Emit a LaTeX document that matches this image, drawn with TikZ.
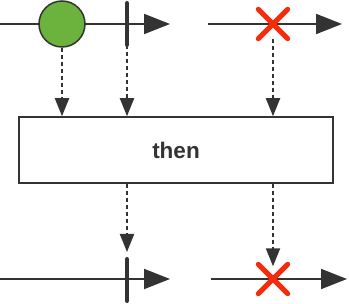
\documentclass[tikz,border=0pt]{standalone}
\usepackage{fontspec}
\setmainfont{Liberation Sans}
\usetikzlibrary{arrows.meta}
\definecolor{marble}{HTML}{6CB33E}
\definecolor{failure}{HTML}{F52B0C}
\definecolor{ink}{HTML}{333333}

\begin{document}
\begin{tikzpicture}[x=1pt,y=-1pt]
  \useasboundingbox (0,0) rectangle (349,304);

  % Source streams (top)
  \coordinate (srcAstart) at (0,24);
  \coordinate (srcAend) at (170,24);
  \coordinate (srcBstart) at (208,24);
  \coordinate (srcBend) at (342,24);
  \draw[ink,line width=2pt,-{Triangle[length=26pt,width=20pt]}] (srcAstart) -- (srcAend);
  \draw[ink,line width=2pt,-{Triangle[length=26pt,width=20pt]}] (srcBstart) -- (srcBend);

  % Emitted value and completion
  \node[circle,draw=ink,fill=marble,line width=1.5pt,minimum size=46pt,inner sep=0pt] (item) at (62,24) {};
  \coordinate (doneAtop) at (127,3);
  \coordinate (doneAbot) at (127,45);
  \draw[ink,line width=4pt,line cap=round] (doneAtop) -- (doneAbot);

  % Error on second source
  \node[minimum size=29pt,inner sep=0pt] (errA) at (273,24) {};
  \draw[failure,line width=5pt,line cap=round] (errA.north west) -- (errA.south east);
  \draw[failure,line width=5pt,line cap=round] (errA.north east) -- (errA.south west);

  % Operator box
  \node[draw=ink,line width=1.5pt,minimum width=314pt,minimum height=66pt,text=ink,font=\fontsize{22.5}{26}\selectfont\bfseries] (op) at (176,150) {then};

  % Dashed links into the operator
  \draw[ink,line width=2pt,dash pattern=on 4pt off 3pt,-{Triangle[length=18pt,width=14pt]}] (item.south) -- (item.south |- op.north);
  \draw[ink,line width=2pt,dash pattern=on 4pt off 3pt,-{Triangle[length=18pt,width=14pt]}] (doneAbot) -- (doneAbot |- op.north);
  \draw[ink,line width=2pt,dash pattern=on 4pt off 3pt,-{Triangle[length=18pt,width=14pt]}] (errA.south) -- (errA.south |- op.north);

  % Result streams (bottom)
  \coordinate (resAstart) at (0,279);
  \coordinate (resAend) at (170,279);
  \coordinate (resBstart) at (211,279);
  \coordinate (resBend) at (347,279);
  \draw[ink,line width=2pt,-{Triangle[length=26pt,width=20pt]}] (resAstart) -- (resAend);
  \draw[ink,line width=2pt,-{Triangle[length=26pt,width=20pt]}] (resBstart) -- (resBend);

  \coordinate (doneBtop) at (127,259);
  \coordinate (doneBbot) at (127,301);
  \draw[ink,line width=4pt,line cap=round] (doneBtop) -- (doneBbot);
  \coordinate (doneBtip) at (127,252);

  \node[minimum size=29pt,inner sep=0pt] (errB) at (273,279) {};
  \draw[failure,line width=5pt,line cap=round] (errB.north west) -- (errB.south east);
  \draw[failure,line width=5pt,line cap=round] (errB.north east) -- (errB.south west);

  % Dashed links out of the operator
  \draw[ink,line width=2pt,dash pattern=on 4pt off 3pt,-{Triangle[length=18pt,width=14pt]}] (op.south -| doneBtip) -- (doneBtip);
  \draw[ink,line width=2pt,dash pattern=on 4pt off 3pt,-{Triangle[length=18pt,width=14pt]}] (op.south -| errB) -- ([yshift=-2pt]errB.north);

\end{tikzpicture}
\end{document}
